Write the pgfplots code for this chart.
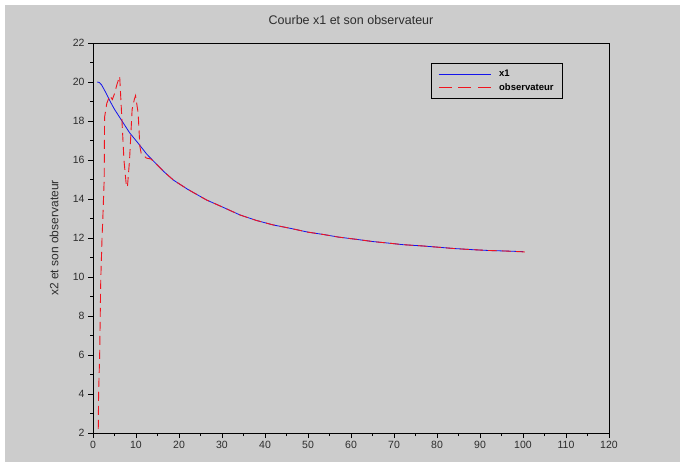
\documentclass[border=0pt]{standalone}
\usepackage{fontspec}
\setmainfont{Liberation Sans}
\usepackage{pgfplots}
\pgfplotsset{compat=1.18}
\definecolor{bggray}{RGB}{204,204,204}
\definecolor{txtgray}{RGB}{45,45,45}
\definecolor{xblue}{RGB}{20,20,235}
\definecolor{obsred}{RGB}{240,20,30}

\begin{document}
\begin{tikzpicture}
\fill[white] (0pt,0pt) rectangle (685pt,467pt);
\fill[bggray] (5pt,5pt) rectangle (680pt,462pt);
\useasboundingbox (0pt,0pt) rectangle (685pt,467pt);
\begin{axis}[
  at={(93pt,34pt)}, anchor=south west,
  scale only axis, width=516pt, height=390pt,
  xmin=0, xmax=120, ymin=2, ymax=22,
  xtick={0,10,...,120}, ytick={2,4,...,22},
  minor x tick num=1, minor y tick num=1,
  tick align=outside, tick pos=left,
  major tick length=5pt, minor tick length=3pt,
  every tick/.style={black, line width=0.8pt},
  axis line style={black, line width=0.9pt},
  ticklabel style={font=\fontsize{10.5}{12}\selectfont, text=txtgray},
  /pgf/number format/assume math mode=true,
  title={Courbe x1 et son observateur},
  title style={at={(0.5,1)}, anchor=south, yshift=9pt, font=\fontsize{12.5}{14}\selectfont, text=txtgray},
  ylabel={x2 et son observateur},
  ylabel style={at={(axis description cs:-0.0756,0.5)}, anchor=center, rotate=0, font=\fontsize{12}{14}\selectfont, text=txtgray},
  legend style={at={(0.655,0.949)}, anchor=north west, draw=black, line width=0.6pt, fill=none,
    font=\bfseries\fontsize{9.5}{11}\selectfont, inner xsep=7pt, inner ysep=5pt,
    row sep=1pt, column sep=6pt},
  legend cell align=left,
]
\addplot[xblue, line width=0.8pt,
  legend image code/.code={\draw[color=xblue, line width=0.9pt] (0pt,0pt) -- (52pt,0pt);}] coordinates {
 (1,20) (1.5,19.97) (2,19.85) (3,19.45) (4,19.0) (5,18.6) (6.6,18.05) (8.5,17.4)
 (10.5,16.86) (12.5,16.3) (14.7,15.8) (16.5,15.4) (18.7,14.97) (22,14.5) (26.4,13.95)
 (30,13.6) (34.2,13.18) (38,12.9) (41.9,12.67) (45.8,12.5) (50,12.3) (53.6,12.18)
 (57,12.05) (61.3,11.93) (65,11.82) (69.1,11.73) (72,11.66) (76.8,11.59) (80.7,11.52)
 (84,11.46) (88.4,11.4) (92,11.36) (96.2,11.33) (100,11.3)
};
\addlegendentry{x1}
\addplot[obsred, line width=0.9pt, dash pattern=on 9pt off 5pt,
  legend image code/.code={
    \color{obsred}
    \fill[fill=obsred, draw=none] (0pt,-0.6pt) rectangle (13pt,0.6pt);
    \fill[fill=obsred, draw=none] (19.5pt,-0.6pt) rectangle (32.5pt,0.6pt);
    \fill[fill=obsred, draw=none] (39pt,-0.6pt) rectangle (52pt,0.6pt);}] coordinates {
 (1.2,1.5) (1.3,4) (1.55,6) (1.8,9.8) (2.1,12) (2.3,13.1) (2.6,15) (2.7,18.2)
 (3.2,18.9) (3.9,19.3) (4.5,19.1) (5.0,19.4) (5.6,19.9) (6.2,20.3) (6.6,18.6)
 (7.2,16) (7.7,14.8) (8.0,14.6) (8.5,16) (9.1,18.6) (9.6,19.1) (9.9,19.3)
 (10.5,18.4) (10.9,16.7) (11.2,16.35) (12.4,16.1) (13.5,16.05) (14.7,15.8)
 (16.5,15.4) (18.7,14.97) (22,14.5) (26.4,13.95) (30,13.6) (34.2,13.18) (38,12.9)
 (41.9,12.67) (45.8,12.5) (50,12.3) (53.6,12.18) (57,12.05) (61.3,11.93) (65,11.82)
 (69.1,11.73) (72,11.66) (76.8,11.59) (80.7,11.52) (84,11.46) (88.4,11.4) (92,11.36)
 (96.2,11.33) (100,11.29) (101,11.27)
};
\addlegendentry{observateur\hspace{8pt}}
\end{axis}
\end{tikzpicture}
\end{document}
